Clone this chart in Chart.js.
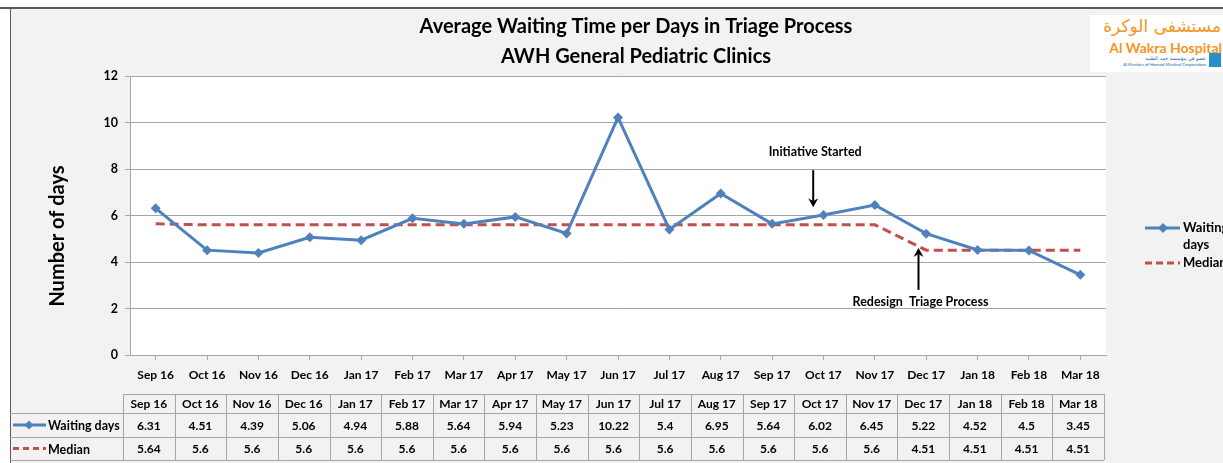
<!DOCTYPE html>
<html>
<head>
<meta charset="utf-8">
<script src="https://cdn.jsdelivr.net/npm/chart.js@4"></script>
<style>
  body { margin: 0; background: #fff; }
  #wrap { position: relative; width: 1223px; height: 463px; overflow: hidden; }
  #logo { position: absolute; left: 1090px; top: 15px; width: 133px; height: 57px; background: #fff; font-family: 'DejaVu Sans', sans-serif; }
  #logo .ar { position: absolute; right: 2px; top: 1px; font-size: 17px; color: #f7941d; white-space: nowrap; }
  #logo .en { position: absolute; right: 1px; top: 24px; font-family: Lato, sans-serif; font-weight: bold; font-size: 14px; color: #f7941d; white-space: nowrap; }
  #logo .ar2 { position: absolute; right: 17px; top: 40px; font-size: 5px; color: #1a5fa8; white-space: nowrap; }
  #logo .sub { position: absolute; right: 17px; top: 47px; font-family: Lato, sans-serif; font-size: 4.5px; color: #1a5fa8; white-space: nowrap; }
  #logo .ico { position: absolute; right: 2px; top: 38px; width: 12px; height: 14px; background: #2a8fc8; }
</style>
</head>
<body>
<div id="wrap">
  <canvas id="myChart" width="1223" height="463"></canvas>
  <div id="logo">
    <div class="ar">مستشفى الوكرة</div>
    <div class="en">Al Wakra Hospital</div>
    <div class="ar2">عضو في مؤسسة حمد الطبية</div>
    <div class="sub">A Member of Hamad Medical Corporation</div>
    <div class="ico"></div>
  </div>
</div>
<script>
var months = ['Sep 16','Oct 16','Nov 16','Dec 16','Jan 17','Feb 17','Mar 17','Apr 17','May 17','Jun 17',
              'Jul 17','Aug 17','Sep 17','Oct 17','Nov 17','Dec 17','Jan 18','Feb 18','Mar 18'];
var waitingDays = [6.31, 4.51, 4.39, 5.06, 4.94, 5.88, 5.64, 5.94, 5.23, 10.22,
                   5.4, 6.95, 5.64, 6.02, 6.45, 5.22, 4.52, 4.5, 3.45];
var median = [5.64, 5.6, 5.6, 5.6, 5.6, 5.6, 5.6, 5.6, 5.6, 5.6,
              5.6, 5.6, 5.6, 5.6, 5.6, 4.51, 4.51, 4.51, 4.51];
var yTicks = [0, 2, 4, 6, 8, 10, 12];
var yTitle = 'Number of days';
var titleLines = ['Average Waiting Time per Days in Triage Process', 'AWH General Pediatric Clinics'];
var notes = [
    { text: 'Initiative Started', at: 12.8, textY: 8.73, from: 7.95, to: 6.35 },
    { text: 'Redesign  Triage Process', at: 14.85, textY: 2.3, from: 2.8, to: 4.6 }
];

var blue = '#4f81bd';
var red = '#c0504d';
var gridGray = '#a6a6a6';
var font = 'Lato, sans-serif';

function diamond(ctx, x, y, r) {
    ctx.beginPath();
    ctx.moveTo(x, y - r);
    ctx.lineTo(x + r, y);
    ctx.lineTo(x, y + r);
    ctx.lineTo(x - r, y);
    ctx.closePath();
    ctx.fill();
}

function arrow(ctx, x, y1, y2) {
    var dir = y2 > y1 ? 1 : -1;
    ctx.strokeStyle = '#000';
    ctx.fillStyle = '#000';
    ctx.lineWidth = 2;
    ctx.beginPath();
    ctx.moveTo(x, y1);
    ctx.lineTo(x, y2 - dir * 6);
    ctx.stroke();
    ctx.beginPath();
    ctx.moveTo(x, y2);
    ctx.lineTo(x - 5, y2 - dir * 9);
    ctx.lineTo(x, y2 - dir * 6);
    ctx.lineTo(x + 5, y2 - dir * 9);
    ctx.closePath();
    ctx.fill();
}

const backdrop = {
    id: 'backdrop',
    beforeDraw(chart) {
        const ctx = chart.ctx, a = chart.chartArea;
        ctx.save();
        ctx.fillStyle = '#fff';
        ctx.fillRect(0, 0, chart.width, chart.height);
        ctx.fillStyle = '#f2f2f2';
        ctx.fillRect(10, 8, chart.width - 10, chart.height - 8);
        ctx.fillStyle = '#fff';
        ctx.fillRect(a.left, a.top, a.right - a.left, a.bottom - a.top);
        ctx.strokeStyle = '#595959';
        ctx.lineWidth = 2;
        ctx.beginPath();
        ctx.moveTo(0, 8); ctx.lineTo(chart.width, 8);
        ctx.stroke();
        ctx.lineWidth = 1;
        ctx.beginPath();
        ctx.moveTo(10.5, 8); ctx.lineTo(10.5, chart.height);
        ctx.stroke();
        ctx.restore();
    }
};

const extras = {
    id: 'extras',
    afterDraw(chart) {
        const ctx = chart.ctx, a = chart.chartArea;
        const x = chart.scales.x, y = chart.scales.y;
        ctx.save();

        // title
        ctx.fillStyle = '#000';
        ctx.textAlign = 'center';
        ctx.textBaseline = 'middle';
        ctx.font = 'bold 20px ' + font;
        ctx.fillText(titleLines[0], 636, 27);
        ctx.fillText(titleLines[1], 636, 57);

        // y axis title
        ctx.save();
        ctx.translate(58, 236);
        ctx.rotate(-Math.PI / 2);
        ctx.font = 'bold 20px ' + font;
        ctx.fillText(yTitle, 0, 0);
        ctx.restore();

        // annotations
        ctx.font = 'bold 12.5px ' + font;
        notes.forEach(function (n) {
            var px = x.getPixelForValue(n.at);
            ctx.fillStyle = '#000';
            ctx.fillText(n.text, px + 2, y.getPixelForValue(n.textY));
            arrow(ctx, px, y.getPixelForValue(n.from), y.getPixelForValue(n.to));
        });

        // legend
        ctx.textAlign = 'left';
        ctx.font = 'bold 13px ' + font;
        ctx.strokeStyle = blue; ctx.fillStyle = blue; ctx.lineWidth = 3;
        ctx.beginPath(); ctx.moveTo(1145, 228); ctx.lineTo(1180, 228); ctx.stroke();
        diamond(ctx, 1163, 228, 5);
        ctx.strokeStyle = red; ctx.setLineDash([7, 4]);
        ctx.beginPath(); ctx.moveTo(1145, 263); ctx.lineTo(1180, 263); ctx.stroke();
        ctx.setLineDash([]);
        ctx.fillStyle = '#000';
        ctx.fillText('Waiting', 1183, 228);
        ctx.fillText('days', 1183, 245);
        ctx.fillText('Median', 1183, 263);

        // data table
        var n = months.length;
        var tl = a.left - 7, tr = a.right - 2;
        var cw = (tr - tl) / n;
        var r0 = 394, r1 = 413, r2 = 437, r3 = 460;
        ctx.strokeStyle = gridGray;
        ctx.lineWidth = 1;
        ctx.beginPath();
        ctx.moveTo(tl, r0 + 0.5); ctx.lineTo(tr, r0 + 0.5);
        [r1, r2, r3].forEach(function (r) { ctx.moveTo(10, r + 0.5); ctx.lineTo(tr, r + 0.5); });
        for (var i = 0; i <= n; i++) {
            var cx = Math.round(tl + i * cw) + 0.5;
            ctx.moveTo(cx, r0); ctx.lineTo(cx, r3);
        }
        ctx.stroke();

        ctx.textAlign = 'center';
        ctx.fillStyle = '#000';
        ctx.font = 'bold 12px ' + font;
        for (var j = 0; j < n; j++) {
            var mx = tl + (j + 0.5) * cw;
            ctx.fillText(months[j], mx, (r0 + r1) / 2 + 1);
            ctx.fillText(String(waitingDays[j]), mx, (r1 + r2) / 2 + 1);
            ctx.fillText(String(median[j]), mx, (r2 + r3) / 2 + 1);
        }

        // row headers with keys
        ctx.textAlign = 'left';
        ctx.font = 'bold 12.5px ' + font;
        var ry1 = (r1 + r2) / 2, ry2 = (r2 + r3) / 2;
        ctx.strokeStyle = blue; ctx.fillStyle = blue; ctx.lineWidth = 3;
        ctx.beginPath(); ctx.moveTo(13, ry1); ctx.lineTo(46, ry1); ctx.stroke();
        diamond(ctx, 29, ry1, 4.5);
        ctx.strokeStyle = red; ctx.setLineDash([6, 4]);
        ctx.beginPath(); ctx.moveTo(13, ry2); ctx.lineTo(46, ry2); ctx.stroke();
        ctx.setLineDash([]);
        ctx.fillStyle = '#000';
        ctx.fillText('Waiting days', 48, ry1 + 1);
        ctx.fillText('Median', 48, ry2 + 1);

        ctx.restore();
    }
};

const ctx = document.getElementById('myChart').getContext('2d');
const myChart = new Chart(ctx, {
    type: 'line',
    data: {
        labels: months,
        datasets: [{
            label: 'Waiting days',
            data: waitingDays,
            borderColor: blue,
            backgroundColor: blue,
            borderWidth: 3,
            pointStyle: 'rectRot',
            pointRadius: 5,
            pointBorderWidth: 0,
            tension: 0
        }, {
            label: 'Median',
            data: median,
            borderColor: red,
            backgroundColor: red,
            borderWidth: 3,
            borderDash: [9, 5],
            pointRadius: 0,
            tension: 0
        }]
    },
    options: {
        responsive: false,
        animation: false,
        layout: {
            padding: { left: 10, top: 76, right: 117, bottom: 0 }
        },
        scales: {
            x: {
                offset: true,
                afterFit: function (s) { s.height = 108; },
                grid: {
                    drawOnChartArea: false,
                    drawTicks: true,
                    tickLength: 5,
                    color: gridGray
                },
                border: { color: gridGray },
                ticks: {
                    color: '#000',
                    font: { family: font, size: 12, weight: 'bold' },
                    maxRotation: 0,
                    autoSkip: false,
                    padding: 8
                }
            },
            y: {
                min: 0,
                max: 12,
                afterFit: function (s) { s.width = 120; },
                afterBuildTicks: function (s) { s.ticks = yTicks.map(function (v) { return { value: v }; }); },
                grid: { color: gridGray, tickLength: 5 },
                border: { color: gridGray },
                ticks: {
                    color: '#000',
                    font: { family: font, size: 12.5, weight: 'bold' },
                    padding: 7
                }
            }
        },
        plugins: {
            legend: { display: false },
            tooltip: { enabled: false }
        }
    },
    plugins: [backdrop, extras]
});
</script>
</body>
</html>
